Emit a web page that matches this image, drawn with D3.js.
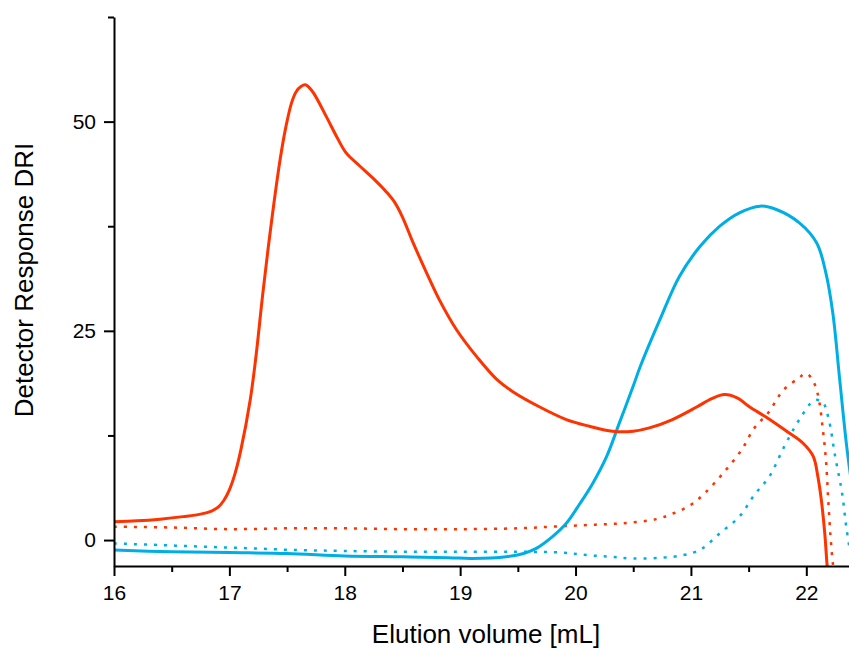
<!DOCTYPE html>
<html>
<head>
<meta charset="utf-8">
<script src="https://cdn.jsdelivr.net/npm/d3@7"></script>
<style>
  body { margin: 0; background: #fff; }
  text { font-family: "Liberation Sans", Arial, sans-serif; fill: #000; }
</style>
</head>
<body>
<div id="chart"></div>
<script>
'use strict';

// sample A (red), refractive index trace
const redVol = [16.0, 16.2, 16.4, 16.6, 16.75, 16.85, 16.9, 16.95, 17.0, 17.05, 17.1, 17.18, 17.23, 17.29, 17.36, 17.44, 17.49, 17.54, 17.58, 17.62, 17.66, 17.72, 17.84, 17.93, 18.01, 18.13, 18.24, 18.36, 18.43, 18.5, 18.59, 18.71, 18.82, 18.97, 19.15, 19.31, 19.46, 19.69, 19.92, 20.12, 20.32, 20.5, 20.64, 20.84, 21.05, 21.18, 21.29, 21.4, 21.51, 21.65, 21.83, 21.97, 22.06, 22.10, 22.13, 22.16, 22.18, 22.2];
const redDri = [2.2, 2.3, 2.5, 2.8, 3.1, 3.5, 3.9, 4.7, 6.0, 8.0, 10.8, 16.7, 21.9, 29.5, 37.5, 45.5, 49.4, 52.3, 53.6, 54.2, 54.4, 53.6, 50.6, 48.2, 46.3, 44.7, 43.3, 41.6, 40.4, 38.6, 35.6, 31.9, 28.7, 25.1, 21.8, 19.3, 17.7, 15.9, 14.4, 13.6, 13.0, 13.0, 13.4, 14.4, 15.9, 16.9, 17.4, 17.0, 15.9, 14.7, 13.0, 11.6, 10.0, 7.6, 4.8, 0.8, -3.0, -6];

// sample A, dotted trace
const redDotVol = [16.0, 16.5, 17.0, 17.5, 18.0, 18.5, 19.0, 19.5, 19.8, 20.1, 20.4, 20.7, 20.85, 21.0, 21.12, 21.28, 21.44, 21.55, 21.67, 21.8, 21.93, 22.0, 22.07, 22.11, 22.14, 22.17, 22.19, 22.21, 22.23, 22.25];
const redDotDri = [1.6, 1.5, 1.3, 1.4, 1.4, 1.3, 1.3, 1.4, 1.6, 1.8, 2.0, 2.5, 3.2, 4.2, 5.6, 8.0, 10.8, 13.4, 15.2, 17.9, 19.3, 19.9, 18.7, 16.7, 13.6, 9.6, 4.8, 0.4, -2.8, -5];

// sample B (blue)
const blueVol = [16.0, 16.5, 17.0, 17.5, 18.0, 18.5, 18.9, 19.1, 19.4, 19.55, 19.66, 19.8, 19.92, 20.04, 20.15, 20.27, 20.38, 20.5, 20.56, 20.73, 20.9, 21.08, 21.25, 21.42, 21.6, 21.74, 21.94, 22.09, 22.17, 22.23, 22.29, 22.35, 22.4];
const blueDri = [-1.2, -1.4, -1.5, -1.6, -1.9, -2.0, -2.1, -2.2, -2.0, -1.6, -1.0, 0.4, 2.0, 4.4, 6.8, 10.0, 14.0, 18.4, 20.7, 26.3, 31.5, 35.1, 37.5, 39.1, 39.9, 39.5, 37.9, 35.5, 31.9, 27.1, 19.1, 11.2, 6];

// sample B, dotted trace
const blueDotVol = [16.0, 16.4, 16.8, 17.2, 17.6, 18.0, 18.5, 19.0, 19.5, 19.88, 20.1, 20.3, 20.5, 20.84, 21.02, 21.1, 21.25, 21.42, 21.55, 21.68, 21.81, 21.94, 22.07, 22.14, 22.19, 22.25, 22.31, 22.35, 22.4];
const blueDotDri = [-0.4, -0.6, -0.8, -1.0, -1.2, -1.3, -1.4, -1.4, -1.4, -1.5, -1.8, -2.0, -2.2, -2.0, -1.5, -1.0, 0.8, 2.8, 5.4, 7.6, 11.2, 14.4, 16.7, 16.5, 14.7, 10.0, 5.6, 1.2, -3];

const xMajor = [16, 17, 18, 19, 20, 21, 22];
const xMinor = [16.5, 17.5, 18.5, 19.5, 20.5, 21.5];
const yMajor = [0, 25, 50];
const yMinor = [12.5, 37.5, 62.5];

const red = "#ff3300", blue = "#00aee6";

var W = 849, H = 649;
var margin = { top: 17, right: 0, bottom: 83, left: 114 };

var x = d3.scaleLinear()
    .domain([16, 22.37])
    .range([margin.left, W - margin.right]);

var y = d3.scaleLinear()
    .domain([-3.1, 62.5])
    .range([H - margin.bottom, margin.top]);

var svg = d3.select("#chart").append("svg")
    .attr("width", W)
    .attr("height", H);

svg.append("defs").append("clipPath")
    .attr("id", "plot")
    .append("rect")
    .attr("x", margin.left)
    .attr("y", 0)
    .attr("width", W - margin.left)
    .attr("height", H - margin.bottom);

var line = d3.line()
    .x(function (d) { return x(d[0]); })
    .y(function (d) { return y(d[1]); })
    .curve(d3.curveCatmullRom.alpha(0.5));

var series = [
    { vol: redDotVol, dri: redDotDri, color: red, dotted: true },
    { vol: blueDotVol, dri: blueDotDri, color: blue, dotted: true },
    { vol: blueVol, dri: blueDri, color: blue, dotted: false },
    { vol: redVol, dri: redDri, color: red, dotted: false }
];

var g = svg.append("g").attr("clip-path", "url(#plot)");
series.forEach(function (s) {
    g.append("path")
        .datum(s.vol.map(function (v, i) { return [v, s.dri[i]]; }))
        .attr("fill", "none")
        .attr("stroke", s.color)
        .attr("stroke-width", s.dotted ? 2.5 : 3)
        .attr("stroke-dasharray", s.dotted ? "3,7" : null)
        .attr("stroke-linejoin", "round")
        .attr("d", line);
});

// axes
svg.append("g")
    .attr("transform", "translate(0," + (H - margin.bottom) + ")")
    .call(d3.axisBottom(x).tickValues(xMajor).tickFormat(d3.format("d"))
        .tickSize(10).tickSizeOuter(0).tickPadding(9));
svg.append("g")
    .attr("transform", "translate(0," + (H - margin.bottom) + ")")
    .call(d3.axisBottom(x).tickValues(xMinor).tickSize(6).tickSizeOuter(0).tickFormat(""))
    .select(".domain").remove();

svg.append("g")
    .attr("transform", "translate(" + margin.left + ",0)")
    .call(d3.axisLeft(y).tickValues(yMajor).tickSize(10).tickSizeOuter(0).tickPadding(8));
svg.append("g")
    .attr("transform", "translate(" + margin.left + ",0)")
    .call(d3.axisLeft(y).tickValues(yMinor).tickSize(6).tickSizeOuter(0).tickFormat(""))
    .select(".domain").remove();

svg.selectAll(".domain, .tick line")
    .attr("stroke", "#000")
    .attr("stroke-width", 2);
svg.selectAll(".tick text")
    .attr("font-size", 21)
    .attr("font-family", "Liberation Sans, Arial, sans-serif")
    .attr("fill", "#000");

svg.append("text")
    .attr("x", 486)
    .attr("y", 643)
    .attr("text-anchor", "middle")
    .attr("font-size", 26)
    .text("Elution volume [mL]");

svg.append("text")
    .attr("transform", "translate(33,280) rotate(-90)")
    .attr("text-anchor", "middle")
    .attr("font-size", 26)
    .text("Detector Response DRI");
</script>
</body>
</html>
